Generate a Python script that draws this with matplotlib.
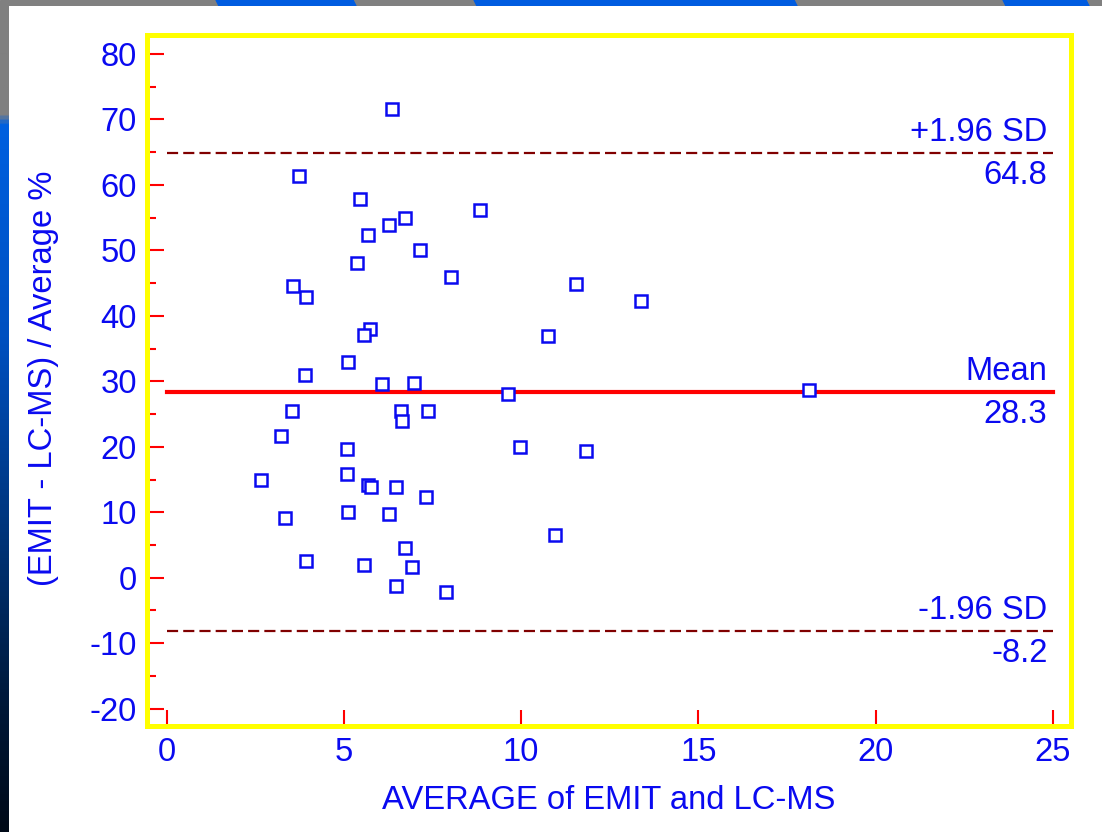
import numpy as np
import matplotlib
matplotlib.use('Agg')
import matplotlib.pyplot as plt
from matplotlib.patches import Polygon
from matplotlib.colors import LinearSegmentedColormap

plt.rcParams['font.family'] = ['Liberation Sans', 'DejaVu Sans']
plt.rcParams['axes.unicode_minus'] = False

# 데이터
avg_x = [6.37, 3.73, 5.47, 8.84, 6.26, 6.73, 5.69, 7.15, 5.36, 8.03,
         3.56, 3.92, 11.54, 13.39, 5.75, 5.58, 10.75, 5.12, 3.90, 6.09,
         6.99, 9.63, 18.11, 3.54, 6.62, 6.65, 7.38, 3.22, 5.08, 9.96,
         11.82, 2.66, 5.08, 5.69, 5.76, 6.48, 7.33, 3.33, 5.13, 6.26,
         10.97, 6.73, 3.92, 5.58, 6.93, 6.48, 7.87]
diff_pct = [71.6, 61.3, 57.9, 56.1, 53.9, 54.9, 52.4, 50.0, 48.1, 46.0,
            44.5, 42.9, 44.8, 42.3, 38.0, 37.1, 37.0, 33.0, 30.9, 29.6,
            29.8, 28.1, 28.6, 25.4, 25.5, 24.0, 25.5, 21.6, 19.7, 20.0,
            19.4, 15.0, 15.8, 14.2, 13.9, 13.9, 12.4, 9.05, 9.97, 9.7,
            6.6, 4.6, 2.6, 1.9, 1.7, -1.3, -2.2]

mean_val = 28.3
upper_sd = 64.8
lower_sd = -8.2
line_x = [0, 25]

x_ticks = [0, 5, 10, 15, 20, 25]
y_ticks = [-20, -10, 0, 10, 20, 30, 40, 50, 60, 70, 80]

BLUE = '#0a0af0'
FS = 23.6

fig = plt.figure(figsize=(11.02, 8.32), dpi=100)
fig.patch.set_facecolor('white')

# 1. 배경 장식 (위쪽 줄무늬, 왼쪽 그라데이션)
top = fig.add_axes([0, 1 - 6 / 832, 1, 6 / 832])
top.set_xlim(0, 1102)
top.set_ylim(0, 1)
top.axis('off')
top.add_patch(plt.Rectangle((0, 0), 1102, 1, color='#808080'))
for x0, x1 in [(216, 353), (474, 794), (1003, 1086)]:
    top.add_patch(Polygon([[x0, 1], [x1, 1], [x1 + 3, 0], [x0 + 3, 0]], color='#005ce0'))

left = fig.add_axes([0, 0, 9 / 1102, 1 - 6 / 832])
grad_cmap = LinearSegmentedColormap.from_list(
    'side', [(0, '#000a18'), (0.15, '#001838'), (0.33, '#003070'), (0.6, '#0050c0'),
             (0.86, '#0060e0'), (0.87, '#808080'), (1, '#808080')])
left.imshow(np.linspace(0, 1, 400).reshape(-1, 1), aspect='auto', cmap=grad_cmap, origin='lower',
            extent=[0, 1, 0, 1])
left.axis('off')

# 2. 본 그래프
ax = fig.add_axes([146.7 / 1102, 1 - 725.7 / 832, (1071 - 146.7) / 1102, (725.7 - 35) / 832])
ax.set_xlim(-0.56, 25.51)
ax.set_ylim(-22.6, 82.9)

ax.plot(line_x, [upper_sd, upper_sd], color='#800000', lw=1.6, dashes=(5.0, 2.3), zorder=2)
ax.plot(line_x, [lower_sd, lower_sd], color='#800000', lw=1.6, dashes=(5.0, 2.3), zorder=2)
ax.plot(line_x, [mean_val, mean_val], color='#ff0000', lw=3, zorder=2)

ax.plot(avg_x, diff_pct, linestyle='none', marker='s', ms=8, mfc='white', mec=BLUE, mew=1.8, zorder=3)

# 선 라벨
label_x = 24.85
for yv, top_txt, bot_txt in [(upper_sd, '+1.96 SD', '%.1f' % upper_sd),
                             (mean_val, 'Mean', '%.1f' % mean_val),
                             (lower_sd, '-1.96 SD', '%.1f' % lower_sd)]:
    ax.annotate(top_txt, (label_x, yv), xytext=(0, 9), textcoords='offset points',
                ha='right', va='baseline', fontsize=FS, color=BLUE)
    ax.annotate(bot_txt, (label_x, yv), xytext=(0, -5), textcoords='offset points',
                ha='right', va='top', fontsize=FS, color=BLUE)

# 축 꾸미기
for sp in ax.spines.values():
    sp.set_color('#ffff00')
    sp.set_linewidth(3.6)

ax.set_xticks(x_ticks)
ax.set_yticks(y_ticks)
ax.set_yticks(np.arange(-15, 80, 10), minor=True)
ax.tick_params(axis='both', which='major', direction='in', color='#ff0000', width=1.5,
               labelsize=FS, labelcolor=BLUE)
ax.tick_params(axis='y', which='major', length=12, pad=7)
ax.tick_params(axis='x', which='major', length=11.5, pad=8)
ax.tick_params(axis='y', which='minor', direction='in', color='#ff0000', width=1.5, length=6.5)

ax.set_xlabel('AVERAGE of EMIT and LC-MS', fontsize=FS, color=BLUE)
ax.xaxis.set_label_coords(0.5, -0.086)
ax.set_ylabel('(EMIT - LC-MS) / Average %', fontsize=FS, color=BLUE)
ax.yaxis.set_label_coords(-0.095, 0.503)

plt.savefig('out.png', dpi=100, facecolor=fig.get_facecolor())
